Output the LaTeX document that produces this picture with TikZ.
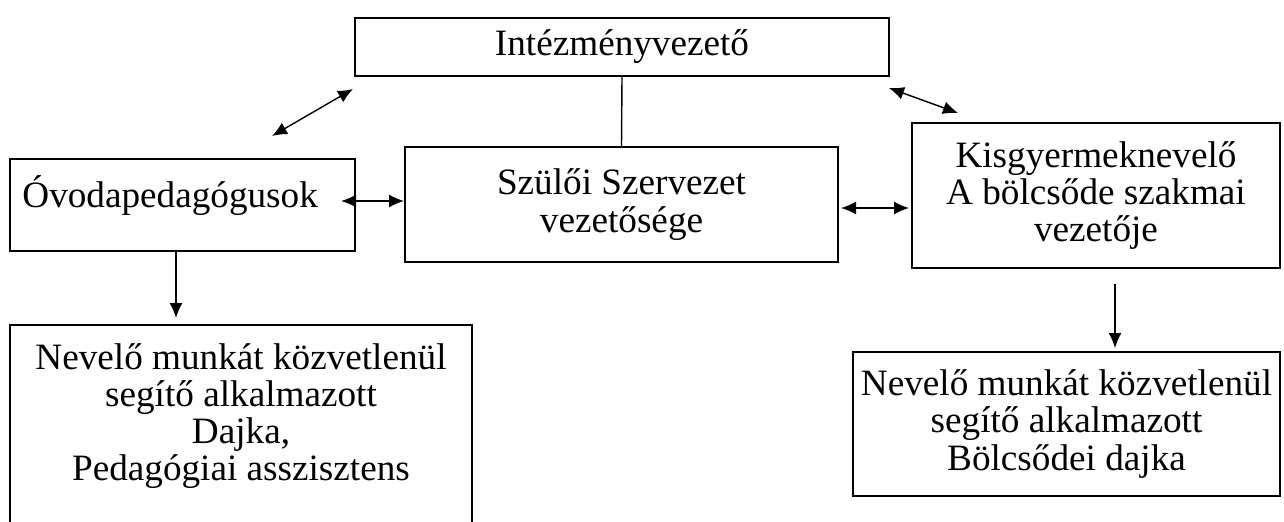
\documentclass[tikz,border=0pt]{standalone}
\usepackage{fontspec}
\setmainfont{Liberation Serif}
\usetikzlibrary{arrows.meta,calc}
\begin{document}
\begin{tikzpicture}[x=0.5pt,y=-0.5pt,
  every node/.style={font=\fontsize{18.6}{18.6}\selectfont, inner sep=0pt},
  box/.style={draw, line width=1pt, align=center},
  txt/.style={align=center},
  conn/.style={line width=0.7pt},
  tip/.style={-{Latex[length=7.5pt,width=6.5pt]}},
  both/.style={{Latex[length=7.5pt,width=6.5pt]}-{Latex[length=7.5pt,width=6.5pt]}}]
\clip (0,0) rectangle (1284,521);
\fill[white] (0,0) rectangle (1284,521);
% boxes
\node[box, minimum width=267pt, minimum height=29pt] (top) at (622,47) {Intézményvezető};
\node[box, minimum width=172.5pt, minimum height=46pt] (ovoda) at (182.5,205) {};
\node[anchor=west] (ovodatext) at (22,196) {Óvodapedagógusok};
\node[box, minimum width=216.5pt, minimum height=57.5pt] (szuloi) at (621.5,204.5) {Szülői Szervezet\\vezetősége};
\node[box, minimum width=184pt, minimum height=72.5pt] (kisgy) at (1096,195.5) {Kisgyermeknevelő\\A bölcsőde szakmai\\vezetője};
\node[box, minimum width=231pt, minimum height=120pt, anchor=north] (nevbal) at (241,324) {};
\node[txt] (nevbaltext) at (241,416) {Nevelő munkát közvetlenül\\segítő alkalmazott\\Dajka,\\Pedagógiai asszisztens};
\node[box, minimum width=213.5pt, minimum height=72pt] (nevjobb) at (1066.5,424) {Nevelő munkát közvetlenül\\segítő alkalmazott\\Bölcsődei dajka};
% free ends
\coordinate (d1a) at (272,136);
\coordinate (d1b) at (353,89);
\coordinate (d2a) at (889,88);
\coordinate (d2b) at (958,113);
\coordinate (h1a) at (341,201);
\coordinate (h2a) at (841,208);
\coordinate (h2b) at (909,208);
% connectors
\draw[conn] (top.south) -- (szuloi.north);
\draw[conn, both] (d1a) -- (d1b);
\draw[conn, both] (d2a) -- (d2b);
\draw[conn, both] (h1a) -- (h1a -| szuloi.west);
\draw[conn, both] (h2a) -- (h2b);
\draw[conn, tip] ($(ovoda.south west)+(167,0)$) coordinate (v1a) -- ($(nevbal.north west)+(167,-6)$);
\draw[conn, tip] ($(kisgy.south west)+(204,15)$) coordinate (v2a) -- ($(nevjobb.north west)+(263,-3)$);
\end{tikzpicture}
\end{document}
